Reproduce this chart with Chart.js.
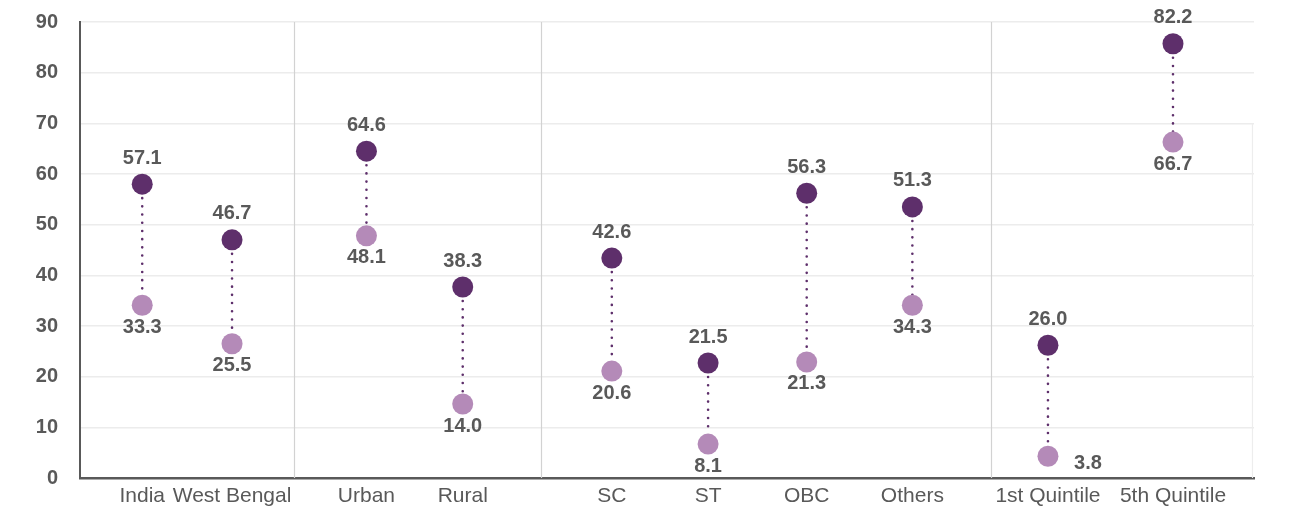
<!DOCTYPE html>
<html>
<head>
<meta charset="utf-8">
<script src="https://cdn.jsdelivr.net/npm/chart.js@4.4.0/dist/chart.umd.min.js"></script>
<style>
    html, body { margin: 0; padding: 0; background: #fff; }
    #wrap { width: 1304px; height: 506px; position: relative; }
</style>
</head>
<body>
<div id="wrap"><canvas id="gapChart"></canvas></div>
<script>
// Categories and values
const categories = ['India', 'West Bengal', 'Urban', 'Rural', 'SC', 'ST', 'OBC', 'Others', '1st Quintile', '5th Quintile'];
const upperValues = [58.0, 47.0, 64.5, 37.7, 43.4, 22.7, 56.2, 53.5, 26.2, 85.7];
const lowerValues = [34.1, 26.5, 47.8, 14.6, 21.1, 6.7, 22.9, 34.1, 4.3, 66.3];
const upperLabels = ['57.1', '46.7', '64.6', '38.3', '42.6', '21.5', '56.3', '51.3', '26.0', '82.2'];
const lowerLabels = ['33.3', '25.5', '48.1', '14.0', '20.6', '8.1', '21.3', '34.3', '3.8', '66.7'];
const yTicks = [0, 10, 20, 30, 40, 50, 60, 70, 80, 90];

// Where each category sits along the x axis (0-100) and where the groups split
const catPos = [5.3, 12.95, 24.4, 32.6, 45.3, 53.5, 61.9, 70.9, 82.45, 93.1];
const groupBreaks = [18.2, 39.3, 77.6];
const lowerLabelSide = ['below', 'below', 'below', 'below', 'below', 'below', 'below', 'below', 'right', 'below'];

const DARK = '#5e2f6b';
const LIGHT = '#b48ab8';
const TEXT = '#595959';
const FONT = "'Liberation Sans', Arial, sans-serif";

Chart.defaults.font.family = FONT;
Chart.defaults.color = TEXT;

const dumbbellExtras = {
    id: 'dumbbellExtras',
    beforeDatasetsDraw(chart) {
        const { ctx, chartArea, scales: { x, y } } = chart;
        ctx.save();

        // group separators
        ctx.strokeStyle = '#d2d2d2';
        ctx.lineWidth = 1.2;
        groupBreaks.forEach(b => {
            const px = Math.round(x.getPixelForValue(b)) + 0.5;
            ctx.beginPath();
            ctx.moveTo(px, chartArea.top);
            ctx.lineTo(px, chartArea.bottom);
            ctx.stroke();
        });

        // faint right edge (from 70 down)
        ctx.strokeStyle = '#ededed';
        ctx.beginPath();
        ctx.moveTo(chartArea.right - 1.5, y.getPixelForValue(70));
        ctx.lineTo(chartArea.right - 1.5, chartArea.bottom);
        ctx.stroke();

        // dotted connectors
        const up = chart.getDatasetMeta(0).data;
        const lo = chart.getDatasetMeta(1).data;
        ctx.strokeStyle = DARK;
        ctx.lineWidth = 2.6;
        ctx.lineCap = 'round';
        ctx.setLineDash([0, 8.2]);
        up.forEach((p, i) => {
            ctx.beginPath();
            ctx.moveTo(p.x, p.y + 14);
            ctx.lineTo(lo[i].x, lo[i].y - 10);
            ctx.stroke();
        });
        ctx.restore();
    },
    afterDatasetsDraw(chart) {
        const { ctx } = chart;
        const up = chart.getDatasetMeta(0).data;
        const lo = chart.getDatasetMeta(1).data;
        ctx.save();
        ctx.font = 'bold 20px ' + FONT;
        ctx.fillStyle = TEXT;
        ctx.textAlign = 'center';
        ctx.textBaseline = 'middle';
        up.forEach((p, i) => ctx.fillText(upperLabels[i], p.x, p.y - 26));
        lo.forEach((p, i) => {
            if (lowerLabelSide[i] === 'right') {
                ctx.fillText(lowerLabels[i], p.x + 40, p.y + 7);
            } else {
                ctx.fillText(lowerLabels[i], p.x, p.y + 22);
            }
        });
        ctx.restore();
    }
};

const ctx = document.getElementById('gapChart').getContext('2d');
new Chart(ctx, {
    type: 'scatter',
    data: {
        datasets: [
            {
                label: 'Upper',
                data: upperValues.map((v, i) => ({ x: catPos[i], y: v })),
                backgroundColor: DARK,
                borderWidth: 0,
                pointRadius: 10.5,
                pointHoverRadius: 10.5,
                clip: false
            },
            {
                label: 'Lower',
                data: lowerValues.map((v, i) => ({ x: catPos[i], y: v })),
                backgroundColor: LIGHT,
                borderWidth: 0,
                pointRadius: 10.5,
                pointHoverRadius: 10.5,
                clip: false
            }
        ]
    },
    options: {
        responsive: true,
        maintainAspectRatio: false,
        animation: false,
        layout: { padding: { top: 22, right: 50, bottom: 0, left: 0 } },
        plugins: {
            legend: { display: false },
            tooltip: { enabled: false }
        },
        scales: {
            x: {
                type: 'linear',
                min: 0,
                max: 100,
                afterFit: s => { s.height = 28; },
                afterBuildTicks: s => { s.ticks = catPos.map(v => ({ value: v })); },
                grid: { display: false, drawTicks: false },
                border: { display: true, color: '#595959', width: 2.5 },
                ticks: {
                    autoSkip: false,
                    maxRotation: 0,
                    padding: 6,
                    color: TEXT,
                    font: { size: 21 },
                    callback: (value, index) => categories[index]
                }
            },
            y: {
                min: 0,
                max: 90,
                afterFit: s => {
                    s.width = 80;
                    // tick padding would otherwise push the plot area down
                    s.paddingTop = 0;
                    s.paddingBottom = 0;
                },
                afterBuildTicks: s => { s.ticks = yTicks.map(v => ({ value: v })); },
                grid: { color: '#ececec', lineWidth: 1.5, drawTicks: false },
                border: { display: true, color: '#595959', width: 2 },
                ticks: {
                    padding: 22,
                    color: TEXT,
                    font: { size: 20, weight: 'bold' }
                }
            }
        }
    },
    plugins: [dumbbellExtras]
});
</script>
</body>
</html>
